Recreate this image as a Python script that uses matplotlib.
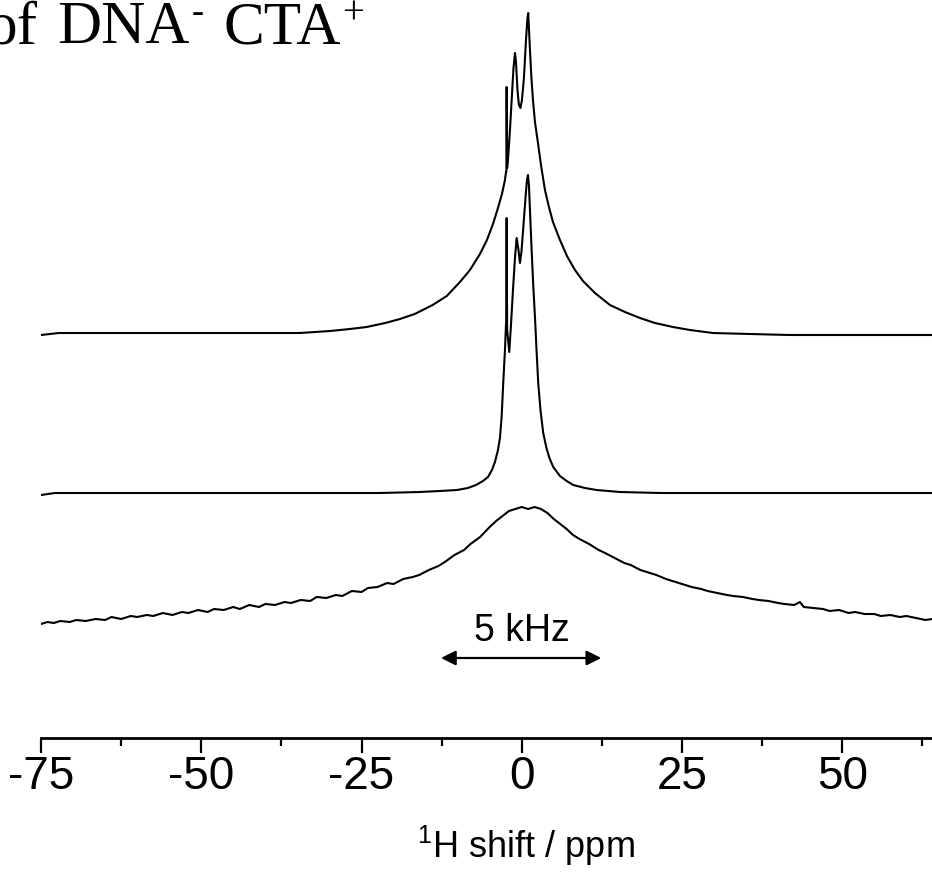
import matplotlib
matplotlib.use('Agg')
import matplotlib.pyplot as plt

# ---- data ----
# top trace: (ppm, intensity)
top_trace = [
    (-75.0, 403), (-72.2, 405), (-58.0, 405), (-42.4, 405), (-34.6, 405), (-29.9, 407),
    (-26.8, 409), (-24.2, 411), (-21.3, 415), (-19.0, 419), (-16.7, 424), (-13.9, 433),
    (-11.7, 442), (-9.64, 456), (-8.08, 468), (-6.52, 484), (-5.43, 498), (-4.49, 514),
    (-3.71, 530), (-3.09, 544), (-2.62, 558), (-2.46, 566), (-2.40, 566), (-2.36, 651),
    (-2.29, 570), (-2.15, 578), (-1.84, 608), (-1.53, 643), (-1.29, 670), (-1.06, 685),
    (-0.90, 676), (-0.67, 648), (-0.44, 633), (-0.20, 630), (0.03, 638), (0.34, 660),
    (0.66, 698), (0.89, 720), (1.01, 725), (1.12, 710), (1.28, 688), (1.51, 660),
    (1.75, 638), (2.06, 616), (2.53, 595), (3.00, 573), (3.62, 548), (4.24, 531),
    (4.87, 516), (5.96, 498), (7.05, 482), (8.30, 468), (9.55, 457), (11.42, 445),
    (13.76, 433), (16.10, 426), (18.44, 420), (20.78, 415), (23.59, 411), (26.24, 408),
    (29.83, 405), (35.60, 404), (41.83, 403), (64.0, 403),
]

# middle trace
mid_trace = [
    (-75.0, 243), (-72.8, 245), (-34.6, 245), (-22.1, 245), (-15.9, 246), (-12.8, 247),
    (-10.1, 248), (-8.39, 250), (-7.15, 253), (-6.05, 257), (-5.27, 261), (-4.65, 268),
    (-4.18, 276), (-3.71, 288), (-3.40, 300), (-3.14, 321), (-2.89, 355), (-2.62, 388),
    (-2.43, 418), (-2.36, 520), (-2.28, 408), (-1.95, 386), (-1.68, 413), (-1.37, 448),
    (-1.06, 480), (-0.80, 500), (-0.51, 488), (-0.28, 475), (-0.05, 486), (0.27, 513),
    (0.58, 540), (0.81, 558), (0.97, 563), (1.12, 553), (1.28, 528), (1.54, 488),
    (1.79, 453), (2.06, 421), (2.32, 386), (2.57, 355), (2.92, 328), (3.35, 305),
    (3.85, 290), (4.32, 280), (4.91, 271), (5.96, 262), (7.00, 257), (8.03, 253),
    (9.86, 250), (11.68, 248), (15.32, 246), (21.56, 245), (64.0, 245),
]

# bottom (broad, noisy) trace
bot_trace = [
    (-75, 114), (-74, 116), (-73, 115), (-72, 117), (-70.5, 116), (-69.5, 118), (-68, 117),
    (-66.5, 119), (-65, 118), (-64, 121), (-62.5, 119), (-61, 122), (-60, 121), (-58.5, 123),
    (-57.5, 122), (-56, 125), (-54.5, 123), (-53, 126), (-52, 125), (-50.5, 128), (-49, 126),
    (-48, 129), (-46.5, 128), (-45, 131), (-44, 129), (-42.5, 133), (-41, 131), (-40, 134),
    (-38.5, 133), (-37, 136), (-36, 135), (-34.5, 138), (-33, 137), (-32, 141), (-30.5, 140),
    (-29, 143), (-28, 142), (-26.5, 147), (-25, 146), (-24, 150), (-22.5, 151), (-21, 155),
    (-20, 154), (-18.5, 159), (-17, 161), (-16, 163), (-14.5, 168), (-13, 172), (-12, 176),
    (-10.5, 183), (-9, 188), (-8, 194), (-6.5, 201), (-5, 211), (-4, 217), (-3, 222),
    (-2, 227), (-1, 229), (0, 231), (1, 229), (2, 231), (3, 229), (4, 225), (5, 219),
    (6, 214), (7, 209), (8, 203), (9, 199), (10.5, 194), (12, 188), (13, 185), (14.5, 180),
    (16, 175), (17, 173), (18.5, 168), (20, 165), (21, 163), (22.5, 159), (24, 156),
    (25, 154), (26.5, 151), (28, 149), (29, 147), (30.5, 145), (32, 143), (33, 142),
    (34.5, 141), (36, 139), (37, 138), (38.5, 137), (40, 135), (41, 134), (42.5, 133),
    (43.4, 136), (44, 131), (45.5, 130), (47, 129), (48, 127), (49.5, 128), (51, 125),
    (52, 126), (53.5, 124), (55, 124), (56, 122), (57.5, 123), (59, 121), (60, 122),
    (61.5, 120), (63, 118), (64, 119),
]

xticks_major = [-75, -50, -25, 0, 25, 50]
xticks_minor = [-62.5, -37.5, -12.5, 12.5, 37.5, 62.5]
arrow_span = (-12.6, 12.4)

# ---- figure ----
plt.rcParams['mathtext.fontset'] = 'custom'
plt.rcParams['mathtext.rm'] = 'Liberation Sans'
plt.rcParams['mathtext.it'] = 'Liberation Sans:italic'
plt.rcParams['mathtext.bf'] = 'Liberation Sans:bold'

W, H = 932, 874
fig = plt.figure(figsize=(W / 100, H / 100), dpi=100)
ax = fig.add_axes([41 / W, (H - 738) / H, 1 - 41 / W, 738 / H])

for trace in (top_trace, mid_trace, bot_trace):
    xs = [p[0] for p in trace]
    ys = [p[1] for p in trace]
    ax.plot(xs, ys, color='black', lw=1.5, solid_joinstyle='round')

ax.set_xlim(-75, 64)
ax.set_ylim(0, 738)
for s in ['top', 'left', 'right']:
    ax.spines[s].set_visible(False)
ax.spines['bottom'].set_linewidth(2)
ax.set_yticks([])
ax.set_xticks(xticks_major)
ax.set_xticks(xticks_minor, minor=True)
ax.set_xticklabels([str(v) for v in xticks_major])
ax.tick_params(axis='x', which='major', direction='out', length=11, width=1.6,
               pad=1, labelsize=33)
ax.tick_params(axis='x', which='minor', direction='out', length=6, width=1.6)
for lab in ax.get_xticklabels():
    lab.set_family('Liberation Sans')
ax.patch.set_visible(False)

# 5 kHz arrow
ax.annotate('', xy=(arrow_span[0], 80), xytext=(arrow_span[1], 80),
            arrowprops=dict(arrowstyle='<|-|>', color='black', lw=1.6,
                            mutation_scale=22, shrinkA=0, shrinkB=0))
ax.text(0, 97, '5 kHz', ha='center', va='baseline', fontsize=27, family='Liberation Sans')

# x label
fig.text(526 / W, (H - 858) / H, r'$^{\mathrm{1}}$H shift / ppm', ha='center', va='baseline',
         fontsize=26, family='Liberation Sans')

# title (cut off at the left edge, as in the reference), pieces at reference positions
y_base = H - 43
fig.text(38 / W, y_base / H, "of", fontsize=44, family='Liberation Serif',
         va='baseline', ha='right')
fig.text(57 / W, y_base / H, "DNA", fontsize=44, family='Liberation Serif',
         va='baseline', ha='left')
fig.text(192 / W, (y_base + 21) / H, "-", fontsize=26, family='Liberation Serif',
         va='baseline', ha='left')
fig.text(224 / W, y_base / H, "CTA", fontsize=44, family='Liberation Serif',
         va='baseline', ha='left')
fig.text(342 / W, (y_base + 19) / H, "+", fontsize=28, family='Liberation Serif',
         va='baseline', ha='left')

fig.savefig('out.png', dpi=100)
